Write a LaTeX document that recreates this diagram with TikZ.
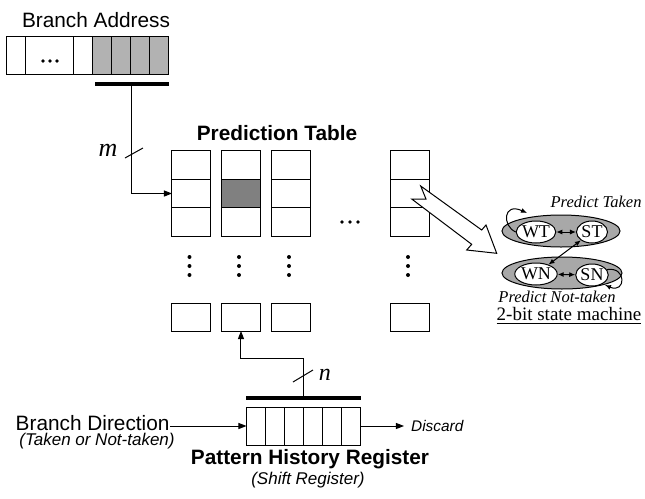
\documentclass[tikz,border=0pt]{standalone}
\usepackage{fontspec}
\setmainfont{Liberation Serif}
\setsansfont{Liberation Sans}
\usepackage{tikz}
\usetikzlibrary{arrows.meta,shapes.geometric,calc}
\definecolor{RegGray}{HTML}{B2B2B2}
\definecolor{HitGray}{HTML}{808080}
\definecolor{StateGray}{HTML}{A8A8A8}

\begin{document}
\begin{tikzpicture}[x=.5pt,y=-.5pt,line width=.5pt,
  cell/.style={draw,minimum width=19.5pt,minimum height=14.25pt,inner sep=0pt,outer sep=0pt},
  bit/.style={draw,minimum width=9.5pt,minimum height=19pt,inner sep=0pt,outer sep=0pt},
  bar/.style={fill=black,inner sep=0pt,outer sep=0pt,minimum height=2pt},
  tip/.style={-{Triangle[length=4pt,width=3pt]}},
  dtip/.style={{Latex[length=3pt,width=2.5pt]}-{Latex[length=3pt,width=2.5pt]}},
  state/.style={ellipse,draw,fill=white,inner sep=0pt,minimum width=15.5pt,minimum height=11pt,font=\fontsize{9}{9}\selectfont},
  group/.style={ellipse,draw,fill=StateGray,inner sep=0pt,minimum width=59pt,minimum height=16pt},
  lbl/.style={font=\sffamily\fontsize{10.4}{12}\selectfont},
  blbl/.style={font=\sffamily\bfseries\fontsize{10.4}{12}\selectfont},
  note/.style={font=\sffamily\itshape\fontsize{8.5}{10}\selectfont},
  pred/.style={font=\itshape\fontsize{8.25}{10}\selectfont,inner sep=1pt}]
  \useasboundingbox (0,0) rectangle (645,499);

  % branch address and the m index bits
  \node[lbl,anchor=base] (baddr) at (96,27) {Branch Address};
  \node[bit] (a1) at (16.5,55.5) {};
  \node[bit,minimum width=24pt] (a2) at (50,55.5) {};
  \foreach \x in {43,50,57}
    \fill (\x,61) circle (1.8);
  \node[bit] (a3) at (83.5,55.5) {};
  \foreach \i/\x in {4/102.5,5/121.5,6/140.5,7/159.5}
    \node[bit,fill=RegGray] (a\i) at (\x,55.5) {};
  \node[bar,minimum width=37pt] (abar) at (132,84) {};

  % prediction table
  \node[blbl] (ptab) at (277,133) {Prediction Table};
  \foreach \c/\x in {1/191.5,2/241,3/291,4/410} {
    \node[cell] (t\c-1) at (\x,165) {};
    \node[cell] (t\c-2) at (\x,193.5) {};
    \node[cell] (t\c-3) at (\x,222) {};
    \foreach \y in {257,266,275}
      \fill (\x-2,\y) circle (2);
    \node[cell,minimum height=14pt] (t\c-b) at (\x,317) {};
  }
  \node[cell,fill=HitGray] at (t2-2) {};
  \foreach \x in {342,350,358}
    \fill (\x,222) circle (1.9);

  \draw[tip] (abar.south) |- (t1-2.west);
  \draw (125,158) -- (143,148);
  \node[font=\itshape\fontsize{13}{13}\selectfont] (mlab) at (108,150) {m};

  % pattern history register
  \node[bar,minimum width=57.5pt] (hbar) at (303.5,398) {};
  \foreach \i/\x in {1/256,2/275.5,3/294.5,4/313.5,5/332.5,6/351.5}
    \node[bit] (h\i) at (\x,426) {};
  \draw[tip] (hbar.north) -- ++(0,-38) -| (t2-b.south);
  \draw (293,382) -- (313,370);
  \node[font=\itshape\fontsize{12}{12}\selectfont] (nlab) at (325,375) {n};

  \node[lbl,anchor=east,inner sep=0pt] (bdir) at (170,423) {Branch Direction};
  \draw[tip] (h1.west -| bdir.east) -- (h1.west);
  \node[note] (bnote) at (97,441) {(Taken or Not-taken)};
  \node[blbl] (phr) at (310,459) {Pattern History Register};
  \node[note] (snote) at (308,480) {(Shift Register)};
  \node[note,font=\sffamily\itshape\fontsize{7.7}{9}\selectfont,anchor=west] (disc) at (404,426) {Discard};
  \draw[tip] (h6.east) -- (disc.west);

  % 2-bit state machine
  \node[group] (gtk) at (561,231) {};
  \node[group,minimum width=60pt] (gnt) at (562,273) {};
  \node[state] (wt) at (536,232) {WT};
  \node[state] (st) at (592,232) {ST};
  \node[state] (wn) at (536,274) {WN};
  \node[state] (sn) at (592,275) {SN};
  \draw[dtip] (wt) -- (st);
  \draw[dtip] (wn) -- (sn);
  \draw[dtip] (st) -- (wn);
  \coordinate (wtloop) at (527,213);
  \coordinate (snloop) at (605,285);
  \draw[-{Latex[length=3pt,width=2.5pt]}] (wt.west) .. controls (502,226) and (503,202) .. (wtloop);
  \draw[-{Latex[length=3pt,width=2.5pt]}] (sn.20) .. controls (627,266) and (626,294) .. (snloop);
  \node[pred,anchor=east] (ptk) at (644,202) {Predict Taken};
  \node[pred] (pnt) at (557,297) {Predict Not-taken};
  \node[font=\fontsize{9.5}{11}\selectfont] (fsm) at (569,316) {\underline{2-bit state machine}};

  % hollow arrow from the table entry to the state machine
  \draw[fill=white] (420.7,186) -- (481.7,230) -- (486,225) -- (496.7,253.3) -- (466.7,250)
    -- (471.7,244.3) -- (411.7,199) -- (426,199) -- cycle;
\end{tikzpicture}
\end{document}
